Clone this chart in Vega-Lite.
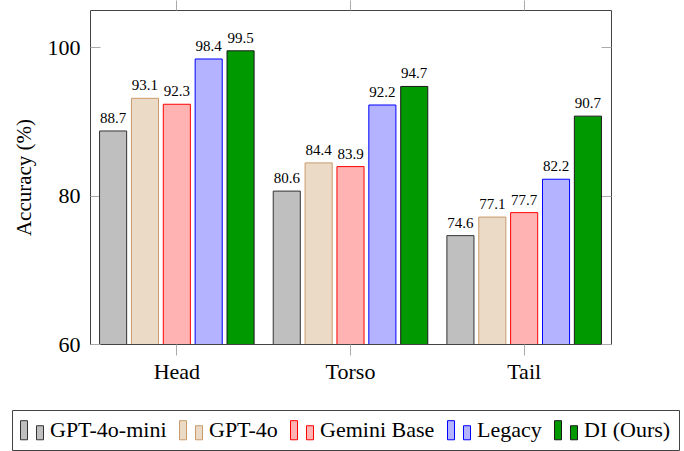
{
  "$schema": "https://vega.github.io/schema/vega-lite/v6.json",
  "width": 521,
  "height": 334,
  "autosize": "none",
  "padding": {"left": 90, "top": 10, "right": 73, "bottom": 107},
  "background": "white",
  "config": {
    "font": "Liberation Serif",
    "view": {"stroke": "#444444", "strokeWidth": 1},
    "axis": {"grid": false, "domain": false, "labelFont": "Liberation Serif", "titleFont": "Liberation Serif", "labelColor": "black", "titleColor": "black", "tickColor": "#aaaaaa", "labelFontSize": 22, "titleFontSize": 21, "titleFontWeight": "normal"},
    "legend": {
      "orient": "none",
      "legendX": -78,
      "legendY": 400,
      "direction": "horizontal",
      "strokeColor": "#444444",
      "fillColor": "white",
      "padding": 8,
      "symbolType": "M-1,-0.83H-0.39V0.83H-1Z M0.39,-0.39H1V0.83H0.39Z",
      "symbolSize": 529,
      "symbolStrokeWidth": 1,
      "labelFont": "Liberation Serif",
      "labelFontSize": 22,
      "labelColor": "black",
      "labelOffset": 6,
      "columnPadding": 10,
      "labelLimit": 300
    }
  },
  "data": {
    "values": [
      {"group": "Head", "model": "GPT-4o-mini", "acc": 88.7},
      {"group": "Head", "model": "GPT-4o", "acc": 93.1},
      {"group": "Head", "model": "Gemini Base", "acc": 92.3},
      {"group": "Head", "model": "Legacy", "acc": 98.4},
      {"group": "Head", "model": "DI (Ours)", "acc": 99.5},
      {"group": "Torso", "model": "GPT-4o-mini", "acc": 80.6},
      {"group": "Torso", "model": "GPT-4o", "acc": 84.4},
      {"group": "Torso", "model": "Gemini Base", "acc": 83.9},
      {"group": "Torso", "model": "Legacy", "acc": 92.2},
      {"group": "Torso", "model": "DI (Ours)", "acc": 94.7},
      {"group": "Tail", "model": "GPT-4o-mini", "acc": 74.6},
      {"group": "Tail", "model": "GPT-4o", "acc": 77.1},
      {"group": "Tail", "model": "Gemini Base", "acc": 77.7},
      {"group": "Tail", "model": "Legacy", "acc": 82.2},
      {"group": "Tail", "model": "DI (Ours)", "acc": 90.7}
    ]
  },
  "encoding": {
    "x": {"field": "group", "type": "nominal", "sort": ["Head", "Torso", "Tail"], "scale": {"paddingInner": 0, "paddingOuter": 0}},
    "xOffset": {"field": "model", "type": "nominal", "sort": ["GPT-4o-mini", "GPT-4o", "Gemini Base", "Legacy", "DI (Ours)"], "scale": {"paddingInner": 0.15, "paddingOuter": 0.3}},
    "y": {"field": "acc", "type": "quantitative", "scale": {"domain": [60, 105], "zero": false, "nice": false}}
  },
  "layer": [
    {
      "mark": {"type": "bar", "strokeWidth": 1, "clip": true},
      "encoding": {
        "x": {"field": "group", "type": "nominal", "sort": ["Head", "Torso", "Tail"], "title": null, "axis": {"orient": "bottom", "labelAngle": 0, "tickSize": 11, "labelPadding": 6, "ticks": true}},
        "y": {"field": "acc", "type": "quantitative", "title": "Accuracy (%)", "axis": {"orient": "left", "values": [60, 80, 100], "tickSize": -10, "labelPadding": 20, "titlePadding": 13}},
        "fill": {"field": "model", "type": "nominal", "scale": {"domain": ["GPT-4o-mini", "GPT-4o", "Gemini Base", "Legacy", "DI (Ours)"], "range": ["#bfbfbf", "#ebdac6", "#ffb3b3", "#b3b3ff", "#009900"]}, "legend": {"title": null}},
        "stroke": {"field": "model", "type": "nominal", "scale": {"domain": ["GPT-4o-mini", "GPT-4o", "Gemini Base", "Legacy", "DI (Ours)"], "range": ["#333333", "#c99a6b", "#ff0000", "#0000ff", "#1a1a1a"]}, "legend": {"title": null}}
      }
    },
    {
      "mark": {"type": "text", "dy": -8, "baseline": "alphabetic", "fontSize": 15, "font": "Liberation Serif", "color": "black"},
      "encoding": {
        "x": {"field": "group", "type": "nominal", "sort": ["Head", "Torso", "Tail"], "title": null, "axis": {"orient": "top", "labels": false, "tickSize": 10}},
        "y": {"field": "acc", "type": "quantitative", "title": null, "axis": {"orient": "right", "values": [60, 80, 100], "labels": false, "tickSize": -10}},
        "text": {"field": "acc", "type": "quantitative", "format": ".1f"}
      }
    }
  ],
  "resolve": {"axis": {"x": "independent", "y": "independent"}}
}
